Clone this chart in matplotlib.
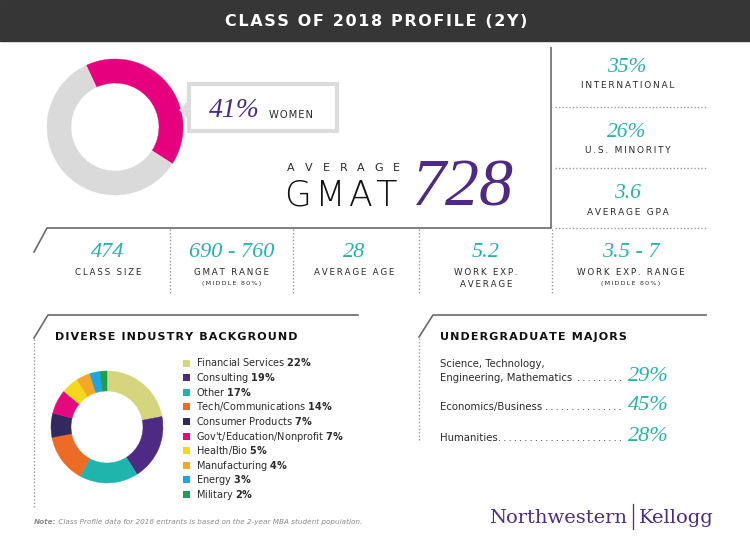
import matplotlib
matplotlib.use("Agg")
import matplotlib.pyplot as plt
from matplotlib.patches import Rectangle, Polygon

plt.rcParams['font.family'] = ['DejaVu Sans']
plt.rcParams['mathtext.fontset'] = 'dejavusans'

# ---------------- data ----------------
title = "CLASS OF 2018 PROFILE (2Y)"
women_pct = 41
women_label = "WOMEN"
gmat_avg = "728"
side_values = ["35%", "26%", "3.6"]
side_labels = ["INTERNATIONAL", "U.S. MINORITY", "AVERAGE GPA"]
stat_values = ["474", "690 - 760", "28", "5.2", "3.5 - 7"]
stat_labels = [["CLASS SIZE"], ["GMAT RANGE"], ["AVERAGE AGE"],
               ["WORK EXP.", "AVERAGE"], ["WORK EXP. RANGE"]]
stat_notes = ["", "(MIDDLE 80%)", "", "", "(MIDDLE 80%)"]
industry_title = "DIVERSE INDUSTRY BACKGROUND"
industries = ["Financial Services", "Consulting", "Other", "Tech/Communications",
              "Consumer Products", "Gov't/Education/Nonprofit", "Health/Bio",
              "Manufacturing", "Energy", "Military"]
industry_pct = [22, 19, 17, 14, 7, 7, 5, 4, 3, 2]
industry_colors = ['#D4D57C', '#4F2A84', '#1FB5AD', '#EE6B25', '#33295E',
                   '#E5087F', '#F4D81D', '#F7A724', '#1DA5E2', '#1E9E4F']
majors_title = "UNDERGRADUATE MAJORS"
major_labels = [["Science, Technology,", "Engineering, Mathematics"],
                ["Economics/Business"], ["Humanities"]]
major_pct = ["29%", "45%", "28%"]
note_head = "Note:"
note_text = " Class Profile data for 2016 entrants is based on the 2-year MBA student population."

# ---------------- style ----------------
PINK = '#E6007E'
LGRAY = '#DADADA'
PURPLE = '#4E2A84'
TEAL = '#26B3AD'
DARK = '#363636'
TXT = '#2b2b2b'
LINE = '#6a6a6a'
DOT = '#9a9a9a'
SERIF_IT = dict(family='Liberation Serif', style='italic')

W, H = 750, 543
fig = plt.figure(figsize=(W / 100, H / 100), dpi=100)


def px_axes(cx, cy, r):
    return fig.add_axes([(cx - r) / W, 1 - (cy + r) / H, 2 * r / W, 2 * r / H])


# women donut
axw = px_axes(115, 127, 68)
wd, _ = axw.pie([women_pct, 100 - women_pct], colors=[PINK, LGRAY], startangle=115,
                counterclock=False, radius=1, wedgeprops=dict(width=24 / 68))
for w in wd:
    w.set_edgecolor(w.get_facecolor()); w.set_linewidth(0.3)
axw.set_xlim(-1, 1); axw.set_ylim(-1, 1); axw.axis('off')

# industry donut
axi = px_axes(107, 427, 56)
wd, _ = axi.pie(industry_pct, colors=industry_colors, startangle=90,
                counterclock=False, radius=1, wedgeprops=dict(width=20 / 56))
for w in wd:
    w.set_edgecolor(w.get_facecolor()); w.set_linewidth(0.3)
axi.set_xlim(-1, 1); axi.set_ylim(-1, 1); axi.axis('off')

# overlay axes in pixel coordinates
ax = fig.add_axes([0, 0, 1, 1])
ax.set_xlim(0, W); ax.set_ylim(H, 0); ax.axis('off')


def tr(s, sp='\u2009'):
    return sp.join(s)


# header
ax.add_patch(Rectangle((0, 0), W, 41, color=DARK, zorder=0))
ax.text(376, 26, tr(title, '\u200a'), color='white', fontsize=11.5, fontweight='bold',
        ha='center', va='baseline')

# callout box
ax.add_patch(Rectangle((189, 84), 148, 47, fill=False, ec='#DCDCDC', lw=3))
ax.add_patch(Polygon([(187, 102), (179, 110), (187, 118)], closed=True, color='#DCDCDC', lw=0))
ax.text(209, 117, f"{women_pct}%", color=PURPLE, fontsize=20, ha='left', va='baseline', **SERIF_IT)
ax.text(269, 118, tr(women_label, '\u200a'), color=TXT, fontsize=7.2, ha='left', va='baseline')

# average GMAT
avg_word = "AVERAGE"
for i, ch in enumerate(avg_word):
    x = 291 + (396 - 291) * i / (len(avg_word) - 1)
    ax.text(x, 171, ch, ha='center', va='baseline', fontsize=8, color=TXT)
ax.text(285, 205, tr("GMAT", '\u200a'), fontsize=25, color='#111111', ha='left', va='baseline',
        fontweight='light')
ax.text(411, 205, gmat_avg, color=PURPLE, fontsize=49, ha='left', va='baseline', **SERIF_IT)

# frame lines
ax.plot([551, 551], [47, 228], color=LINE, lw=1.2, solid_capstyle='butt')
ax.plot([34, 47, 551], [252, 228, 228], color=LINE, lw=1.2)

# right column
side_val_y = [72, 137, 198]
side_lab_y = [88, 153, 215]
for v, l, yv, yl in zip(side_values, side_labels, side_val_y, side_lab_y):
    ax.text(627, yv, v, color=TEAL, fontsize=15.5, ha='center', va='baseline', **SERIF_IT)
    ax.text(628, yl, tr(l), color=TXT, fontsize=6.5, ha='center', va='baseline')
for y in [107, 168, 228]:
    ax.plot([555, 707], [y, y], color=DOT, lw=1, ls=(0, (1, 1.5)))

# stats row
stat_x = [108, 232, 354, 486, 631]
for x in [170, 293, 419, 552]:
    ax.plot([x, x], [229, 293], color=DOT, lw=1, ls=(0, (1, 1.5)))
for x, v, labs, note in zip(stat_x, stat_values, stat_labels, stat_notes):
    ax.text(x, 257, v, color=TEAL, fontsize=16, ha='center', va='baseline', **SERIF_IT)
    for k, lab in enumerate(labs):
        ax.text(x, 275 + 12 * k, tr(lab), color=TXT, fontsize=6.3, ha='center', va='baseline')
    if note:
        ax.text(x, 285, tr(note), color=TXT, fontsize=4.6, ha='center', va='baseline')

# bottom section frames
ax.plot([34, 48, 358], [338, 315, 315], color=LINE, lw=1.2)
ax.plot([34, 34], [339, 507], color=DOT, lw=1, ls=(0, (1, 1.5)))
ax.plot([419, 433, 706], [337, 315, 315], color=LINE, lw=1.2)
ax.plot([419, 419], [338, 442], color=DOT, lw=1, ls=(0, (1, 1.5)))

# industry
ax.text(55, 340, tr(industry_title, '\u200a'), fontsize=8, fontweight='bold', color='#111111',
        ha='left', va='baseline')
for i, (name, pct, col) in enumerate(zip(industries, industry_pct, industry_colors)):
    yc = 363 + 14.6 * i
    ax.add_patch(Rectangle((183, yc - 3.5), 7, 7, color=col, lw=0))
    ax.text(196, yc + 3.5, f"{name} $\\mathbf{{{pct}\\%}}$", fontsize=7, color=TXT,
            ha='left', va='baseline')

# undergrad majors
ax.text(440, 340, tr(majors_title, '\u200a'), fontsize=8, fontweight='bold', color='#111111',
        ha='left', va='baseline')
major_y = [381, 410, 441]
renderer = fig.canvas.get_renderer()
inv = ax.transData.inverted()
for labs, pct, y in zip(major_labels, major_pct, major_y):
    n = len(labs)
    last = None
    for k, lab in enumerate(labs):
        last = ax.text(440, y - 14 * (n - 1 - k), lab, fontsize=7.3, color=TXT,
                       ha='left', va='baseline')
    bb = last.get_window_extent(renderer)
    x_end = inv.transform((bb.x1, bb.y0))[0]
    ndots = int((622 - x_end - 4) / 5.0)
    ax.text(622, y, '\u2009'.join('.' * max(ndots, 1)), fontsize=7.3, color=TXT,
            ha='right', va='baseline')
    ax.text(628, y, pct, color=TEAL, fontsize=16, ha='left', va='baseline', **SERIF_IT)

# note
t_note = ax.text(34, 524, note_head, fontsize=5.2, fontstyle='italic', fontweight='bold',
                 color='#8a8a8a', ha='left', va='baseline')
ax.annotate(note_text, xy=(1, 0), xycoords=t_note, fontsize=5.2, fontstyle='italic',
            color='#8a8a8a', ha='left', va='bottom')

# logo
ax.text(627, 523, "Northwestern", family='DejaVu Serif', fontsize=14, color=PURPLE,
        ha='right', va='baseline')
ax.plot([633, 633], [504, 529], color=PURPLE, lw=0.9)
ax.text(639, 523, "Kellogg", family='DejaVu Serif', fontsize=14, color=PURPLE,
        ha='left', va='baseline')

fig.savefig("out.png", dpi=100)
